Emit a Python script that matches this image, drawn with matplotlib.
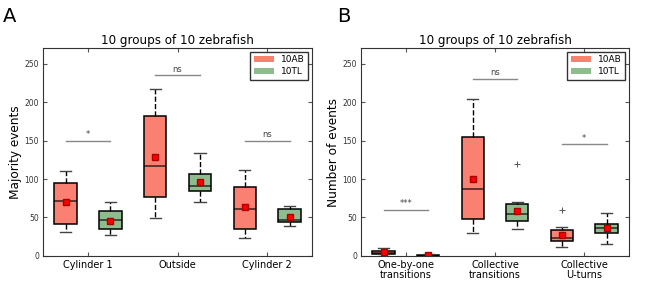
import matplotlib.pyplot as plt
import numpy as np

# categories / groups
cats_a = ['Cylinder 1', 'Outside', 'Cylinder 2']
cats_b = ['One-by-one\ntransitions', 'Collective\ntransitions', 'Collective\nU-turns']
groups = ['10AB', '10TL']
colors = ['#fa8072', '#8fbc8f']

# box stats: whislo, q1, med, q3, whishi, mean
ab_a = [[31, 42, 72, 95, 111, 70], [49, 76, 117, 182, 217, 128.5], [23, 35, 60.5, 90, 112, 63.5]]
tl_a = [[27, 35, 46.5, 58, 70, 46], [70.5, 84, 91, 106, 134, 96.5], [38.5, 44.3, 47.4, 60.5, 65, 51]]
ab_b = [[0, 2.6, 4.5, 6.9, 10.4, 5], [30, 47.6, 86.5, 154, 204, 100], [12, 19.5, 23, 33.7, 38, 27]]
tl_b = [[0, 0.2, 0.5, 1.2, 2, 1.2], [35.5, 46, 54, 67, 70.5, 59], [15, 30, 36, 42, 56, 37]]
fliers_ab_b = [[], [], [60]]
fliers_tl_b = [[], [119], []]

# significance: (height, label)
sig_a = [(150, '*'), (235, 'ns'), (150, 'ns')]
sig_b = [(60, '***'), (230, 'ns'), (145, '*')]


def stats(rows, fliers=None):
    out = []
    for i, r in enumerate(rows):
        out.append(dict(whislo=r[0], q1=r[1], med=r[2], q3=r[3], whishi=r[4], mean=r[5],
                        fliers=fliers[i] if fliers else []))
    return out


def panel(ax, cats, ab, tl, sig, ylabel, fab=None, ftl=None):
    pos = np.arange(1, len(cats) + 1)
    for k, (data, fl) in enumerate([(ab, fab), (tl, ftl)]):
        off = -0.25 if k == 0 else 0.25
        ax.bxp(stats(data, fl), positions=pos + off, widths=0.25, patch_artist=True,
               showmeans=True,
               boxprops=dict(facecolor=colors[k], edgecolor='black', linewidth=1.1),
               medianprops=dict(color='black', alpha=0.7, linewidth=1.2),
               whiskerprops=dict(color='black', linestyle='--', linewidth=1),
               capprops=dict(color='#444444', linewidth=1),
               meanprops=dict(marker='s', markerfacecolor='red', markeredgecolor='#aa0000',
                              markersize=4),
               flierprops=dict(marker='+', markeredgecolor='#555555', markersize=4,
                               markeredgewidth=0.7))
    for i, (h, lab) in enumerate(sig):
        ax.plot([pos[i] - 0.25, pos[i] + 0.25], [h, h], color='#888888', lw=1)
        ax.text(pos[i], h + 2, lab, ha='center', va='bottom', fontsize=6, color='#444444')
    ax.set_xlim(0.5, len(cats) + 0.5)
    ax.set_ylim(0, 270)
    ax.set_xticks(pos)
    ax.set_xticklabels(cats, fontsize=7, linespacing=1.0)
    ax.set_yticks([0, 50, 100, 150, 200, 250])
    ax.tick_params(axis='y', labelsize=5.5, labelcolor='#333333', pad=3)
    ax.tick_params(direction='in', top=True, right=True, length=3, color='#555555')
    ax.tick_params(axis='x', pad=3)
    ax.set_ylabel(ylabel, fontsize=8.7, labelpad=2)
    ax.set_title('10 groups of 10 zebrafish', fontsize=8.6, pad=3)
    for s in ax.spines.values():
        s.set_color('#333333')
    handles = [plt.Rectangle((0, 0), 1, 1, fc=c, ec='none') for c in colors]
    leg = ax.legend(handles, groups, loc='upper right', fontsize=6.5, fancybox=False,
                    handlelength=2.2, handleheight=0.6, borderaxespad=0.4, labelspacing=0.35,
                    borderpad=0.4)
    leg.get_frame().set_edgecolor('black')


fig = plt.figure(figsize=(6.64, 2.84), dpi=100)
ax1 = fig.add_axes([0.065, 0.0986, 0.405, 0.732])
ax2 = fig.add_axes([0.544, 0.0986, 0.403, 0.732])
panel(ax1, cats_a, ab_a, tl_a, sig_a, 'Majority events')
panel(ax2, cats_b, ab_b, tl_b, sig_b, 'Number of events', fliers_ab_b, fliers_tl_b)
fig.text(0.005, 0.975, 'A', fontsize=14, va='top')
fig.text(0.508, 0.975, 'B', fontsize=14, va='top')
fig.savefig('out.png', dpi=100)
